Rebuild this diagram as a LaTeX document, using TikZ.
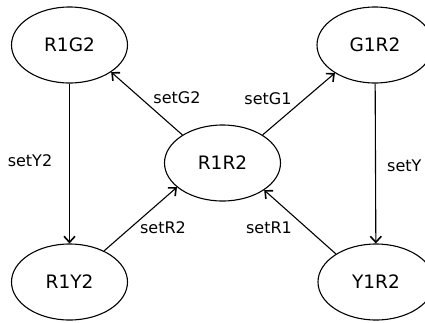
\documentclass[tikz,border=0pt]{standalone}
\usepackage{fontspec}
\setmainfont{DejaVu Sans}
\usetikzlibrary{shapes.geometric,arrows.meta}
\tikzset{
  state/.style = {draw, ellipse, line width=1.1pt, inner sep=0pt,
                  minimum width=116pt, minimum height=76pt,
                  font=\fontsize{18.5}{20}\selectfont},
  lbl/.style   = {inner sep=0pt, font=\fontsize{16}{18}\selectfont},
  arrow/.style = {-{Straight Barb[length=6pt,width=11pt,line width=1.6pt]}, line width=1.1pt},
}
\begin{document}
\begin{tikzpicture}[x=1pt,y=-1pt]
  \clip (0,0) rectangle (425,322);
  \useasboundingbox (0,0) rectangle (425,322);
  % states
  \node[state] (R1G2) at (69.5,45)  {R1G2};
  \node[state] (G1R2) at (375,45)   {G1R2};
  \node[state] (R1R2) at (222.5,163) {R1R2};
  \node[state] (R1Y2) at (69.5,282) {R1Y2};
  \node[state] (Y1R2) at (376,282)  {Y1R2};
  % transitions
  \draw[arrow] (R1G2) -- (R1Y2);
  \draw[arrow] (G1R2) -- (Y1R2);
  \draw[arrow] (R1R2.145) -- (R1G2.-33);
  \draw[arrow] (R1R2.35) -- (G1R2.215);
  \draw[arrow] (R1Y2.42) -- (R1R2.208);
  \draw[arrow] (Y1R2.145) -- (R1R2.-33);
  % labels
  \node[lbl] (lY2) at (30,161)  {setY2};
  \node[lbl] (lG2) at (177,98)  {setG2};
  \node[lbl] (lG1) at (268,99)  {setG1};
  \node[lbl] (lR2) at (163,228) {setR2};
  \node[lbl] (lR1) at (269,228) {setR1};
  \node[lbl, anchor=west] (lY1) at (387,166) {setY};
\end{tikzpicture}
\end{document}
